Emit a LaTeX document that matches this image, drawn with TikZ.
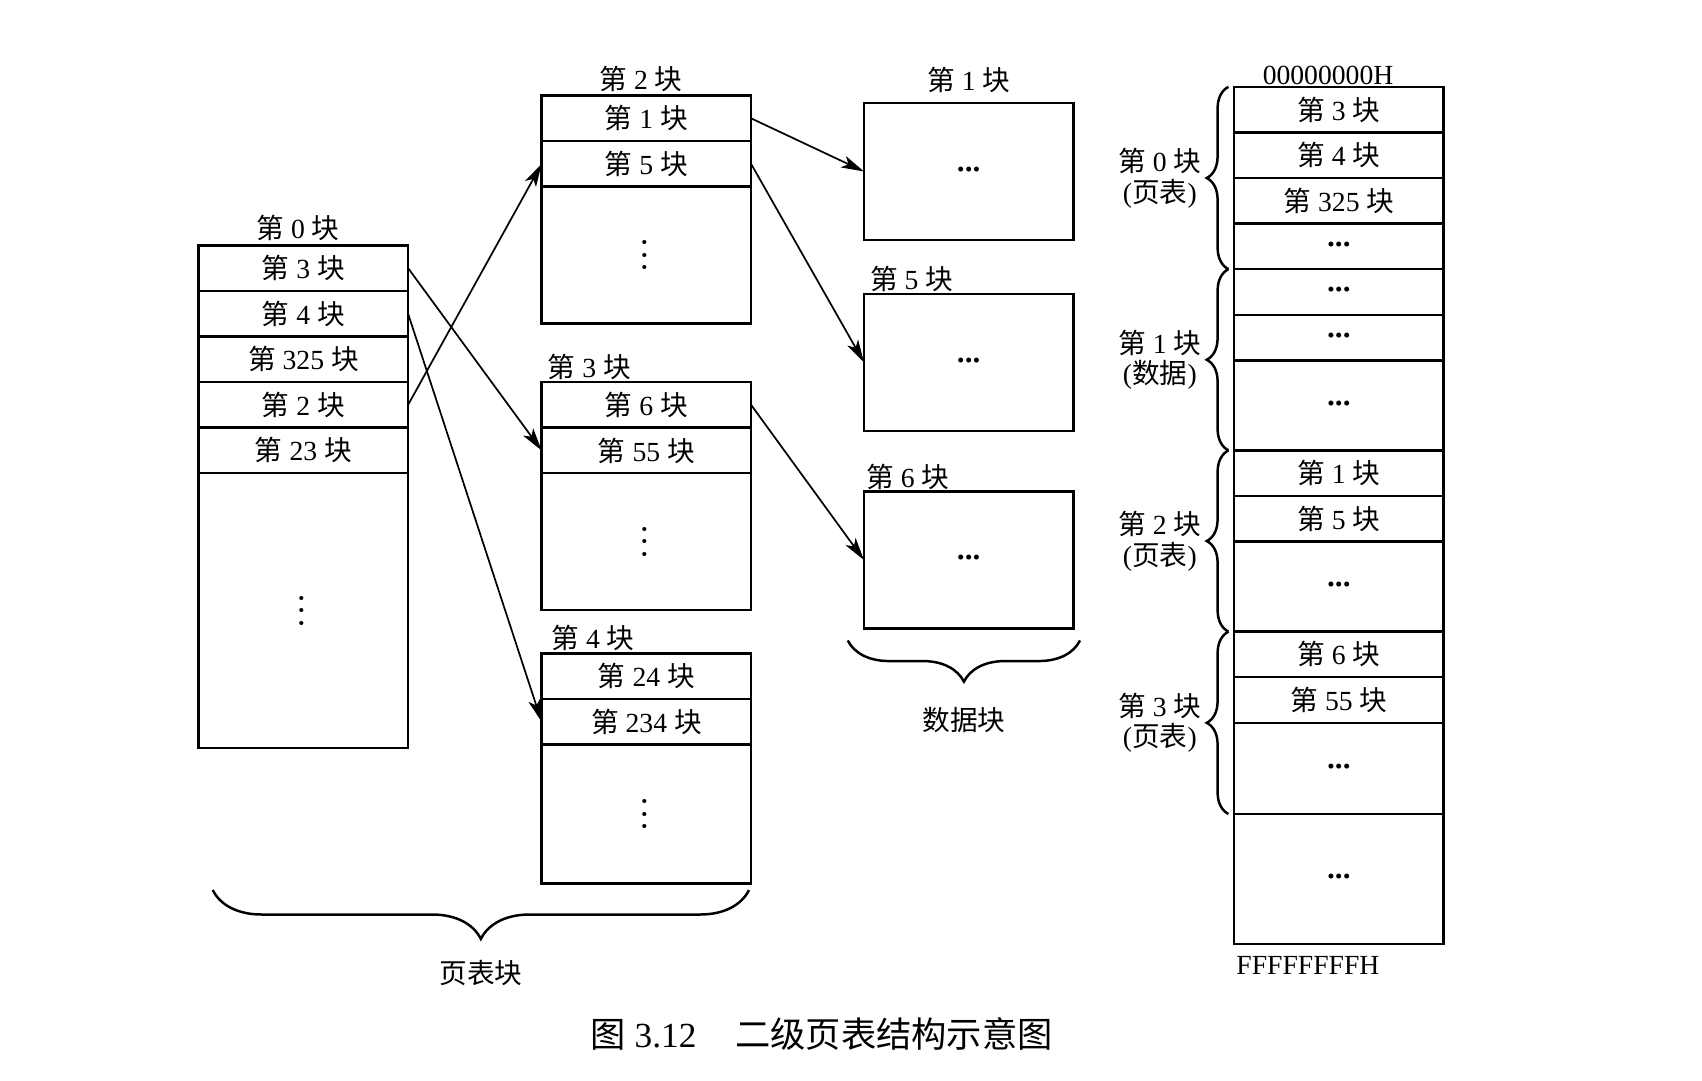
\documentclass[tikz,border=0pt]{standalone}
\usepackage{fontspec}
\setmainfont{Liberation Serif}
\newfontfamily\cjk{Noto Sans CJK SC}
\usetikzlibrary{positioning,arrows.meta,decorations.pathreplacing}

\newcommand{\blk}[1]{{\cjk 第} #1 {\cjk 块}}
\newcommand{\hdots}{{\fontsize{11}{11}\selectfont\textbullet\kern0.3pt\textbullet\kern0.3pt\textbullet}}
\newcommand{\vdotsb}{\rotatebox{90}{\fontsize{9}{9}\selectfont\textbullet\kern3.4pt\textbullet\kern3.4pt\textbullet}}

\begin{document}
\begin{tikzpicture}[x=0.02cm, y=-0.02cm,
  every node/.style={font=\fontsize{14.5}{16}\selectfont},
  cell/.style={draw, line width=1.3pt, minimum width=3.86cm, minimum height=0.84cm, inner sep=0pt, outer sep=0pt},
  tail/.style={cell, minimum height=#1},
  ptr/.style={-{Stealth[length=12pt, width=6.5pt, inset=3pt]}, line width=0.9pt},
  brc/.style={decorate, decoration={brace, amplitude=#1}, line width=1.3pt},
  ttl/.style={inner sep=1pt}]
  \useasboundingbox (0,0) rectangle (1568,995);

  % page table block 0
  \node[cell, anchor=north west] (a1) at (183,226) {\blk{3}};
  \node[cell, below=0pt of a1] (a2) {\blk{4}};
  \node[cell, below=0pt of a2] (a3) {\blk{325}};
  \node[cell, below=0pt of a3] (a4) {\blk{2}};
  \node[cell, below=0pt of a4] (a5) {\blk{23}};
  \node[tail=5.06cm, below=0pt of a5] (a6) {\vdotsb};
  \node[ttl, above=1pt of a1, xshift=-0.1cm] (ta) {\blk{0}};

  % page table blocks 2, 3, 4
  \node[cell, anchor=north west] (b1) at (499,88) {\blk{1}};
  \node[cell, below=0pt of b1] (b2) {\blk{5}};
  \node[tail=2.52cm, below=0pt of b2] (b3) {\vdotsb};
  \node[ttl, above=1pt of b1, xshift=-0.1cm] (tb) {\blk{2}};

  \node[cell, anchor=north west] (c1) at (499,352) {\blk{6}};
  \node[cell, below=0pt of c1] (c2) {\blk{55}};
  \node[tail=2.52cm, below=0pt of c2] (c3) {\vdotsb};
  \node[ttl, anchor=south west] (tc) at ([xshift=2pt]c1.north west) {\blk{3}};

  \node[cell, anchor=north west] (e1) at (499,602) {\blk{24}};
  \node[cell, below=0pt of e1] (e2) {\blk{234}};
  \node[tail=2.56cm, below=0pt of e2] (e3) {\vdotsb};
  \node[ttl, anchor=south west] (te) at ([xshift=4pt]e1.north west) {\blk{4}};

  % data blocks
  \node[tail=2.52cm, anchor=north west] (d1) at (796,95) {\hdots};
  \node[ttl, above=4pt of d1] (td1) {\blk{1}};
  \node[tail=2.52cm, anchor=north west] (d5) at (796,271) {\hdots};
  \node[ttl, anchor=south west] (td5) at ([xshift=2pt]d5.north west) {\blk{5}};
  \node[tail=2.52cm, anchor=north west] (d6) at (796,453) {\hdots};
  \node[ttl, anchor=south west] (td6) at (d6.north west) {\blk{6}};

  % memory column
  \node[cell, anchor=north west] (m1) at (1137,80) {\blk{3}};
  \foreach \i/\h/\txt [remember=\i as \p (initially 1)] in {2/0.84cm/{\blk{4}}, 3/0.84cm/{\blk{325}}, 4/0.84cm/\hdots, 5/0.84cm/\hdots, 6/0.84cm/\hdots, 7/1.66cm/\hdots, 8/0.84cm/{\blk{1}}, 9/0.84cm/{\blk{5}}, 10/1.66cm/\hdots, 11/0.84cm/{\blk{6}}, 12/0.84cm/{\blk{55}}, 13/1.68cm/\hdots, 14/2.4cm/\hdots}
    \node[cell, minimum height=\h, below=0pt of m\p] (m\i) {\txt};
  \node[ttl, above=0pt of m1, xshift=-0.2cm] (top) {00000000H};
  \node[ttl, anchor=north west] (bot) at ([yshift=-5pt]m14.south west) {FFFFFFFFH};

  % pointers
  \draw[ptr] (a1.east) -- (c2.west);
  \draw[ptr] (a2.east) -- (e2.west);
  \draw[ptr] (a4.east) -- (b2.west);
  \draw[ptr] (b1.east) -- (d1.west);
  \draw[ptr] (b2.east) -- (d5.west);
  \draw[ptr] (c1.east) -- (d6.west);

  % braces
  \draw[brc=0.9cm] (690,820) -- (196,820) node[midway, below=1.15cm] (lpt) {{\cjk 页表块}};
  \draw[brc=0.76cm] (995,590) -- (781,590) node[midway, below=1.1cm] (ldt) {{\cjk 数据块}};
  \draw[brc=0.4cm] ([xshift=-3pt]m4.south west) -- ([xshift=-3pt]m1.north west)
    node[midway, left=0.36cm, align=center] (g0) {\blk{0}\\({\cjk 页表})};
  \draw[brc=0.4cm] ([xshift=-3pt]m7.south west) -- ([xshift=-3pt]m5.north west)
    node[midway, left=0.36cm, align=center] (g1) {\blk{1}\\({\cjk 数据})};
  \draw[brc=0.4cm] ([xshift=-3pt]m10.south west) -- ([xshift=-3pt]m8.north west)
    node[midway, left=0.36cm, align=center] (g2) {\blk{2}\\({\cjk 页表})};
  \draw[brc=0.4cm] ([xshift=-3pt]m13.south west) -- ([xshift=-3pt]m11.north west)
    node[midway, left=0.36cm, align=center] (g3) {\blk{3}\\({\cjk 页表})};

  \node[font=\fontsize{18.5}{22}\selectfont] (cap) at (757,953) {{\cjk 图} 3.12\hspace{1.1em}{\cjk 二级页表结构示意图}};
\end{tikzpicture}
\end{document}
